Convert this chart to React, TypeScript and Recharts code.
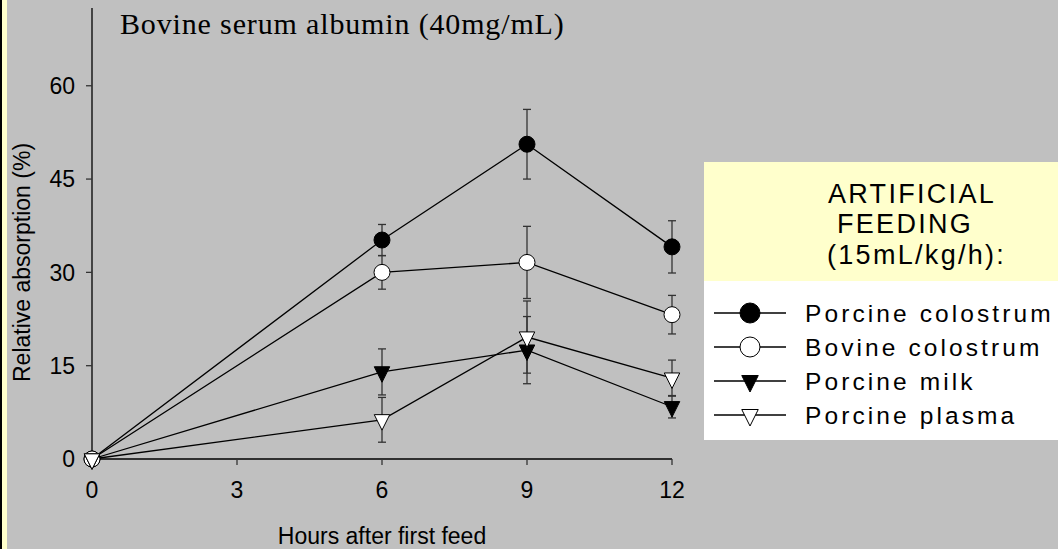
import React from "react";
import {
  ComposedChart,
  Line,
  XAxis,
  YAxis,
  ErrorBar,
  Legend,
  Customized,
} from "recharts";

const hours = [0, 6, 9, 12];
const porcineColostrum = [0, 35.2, 50.6, 34.1];
const porcineColostrumSE = [0, 2.5, 5.6, 4.2];
const bovineColostrum = [0, 30.0, 31.6, 23.2];
const bovineColostrumSE = [0, 2.7, 5.8, 3.1];
const porcineMilk = [0, 14.0, 17.5, 8.4];
const porcineMilkSE = [0, 3.7, 5.4, 1.8];
const porcinePlasma = [0, 6.3, 19.6, 13.0];
const porcinePlasmaSE = [0, 3.6, 5.8, 2.9];

const xTicks = [0, 3, 6, 9, 12];
const yTicks = [0, 15, 30, 45, 60];
const seriesNames = ["Porcine colostrum", "Bovine colostrum", "Porcine milk", "Porcine plasma"];
const legendTitle = ["ARTIFICIAL", "FEEDING", "(15mL/kg/h):"];

const data = hours.map((h, i) => ({
  hour: h,
  pc: porcineColostrum[i],
  pcErr: porcineColostrumSE[i],
  bc: bovineColostrum[i],
  bcErr: bovineColostrumSE[i],
  pm: porcineMilk[i],
  pmErr: porcineMilkSE[i],
  pp: porcinePlasma[i],
  ppErr: porcinePlasmaSE[i],
}));

const SANS = "'Liberation Sans', Arial, sans-serif";
const SERIF = "'Liberation Serif', 'Times New Roman', serif";
const BG = "#C0C0C0";
const YELLOW = "#FFFFCC";

// down-pointing triangle, centred on its centroid
const triPath = (cx: number, cy: number, w: number, h: number) =>
  `M${cx - w / 2},${cy - h / 3} L${cx + w / 2},${cy - h / 3} L${cx},${cy + (2 * h) / 3} Z`;

const makeTriangleDot = (fill: string) => (props: any) => {
  const { cx, cy, index } = props;
  if (cx == null || cy == null) return <g key={`t-${index}`} />;
  return (
    <path
      key={`t-${index}`}
      d={triPath(cx, cy, 15.5, 15.5)}
      fill={fill}
      stroke="#000"
      strokeWidth={1}
    />
  );
};

const markers = [
  { kind: "circle", fill: "#000" },
  { kind: "circle", fill: "#fff" },
  { kind: "tri", fill: "#000" },
  { kind: "tri", fill: "#fff" },
];

const LegendBox = () => (
  <svg width={354} height={278} style={{ display: "block" }}>
    <rect x={0} y={0} width={354} height={119} fill={YELLOW} />
    <rect x={0} y={119} width={354} height={159} fill="#fff" />
    <g fontFamily={SANS} fontSize={27} fill="#000" letterSpacing={2.3}>
      <text x={124} y={41}>{legendTitle[0]}</text>
      <text x={133} y={71}>{legendTitle[1]}</text>
      <text x={123} y={102}>{legendTitle[2]}</text>
    </g>
    {seriesNames.map((name, i) => {
      const cy = 151 + i * 34;
      const m = markers[i];
      return (
        <g key={name}>
          <line x1={10} x2={82} y1={cy} y2={cy} stroke="#000" strokeWidth={1.3} />
          {m.kind === "circle" ? (
            <circle cx={46} cy={cy} r={10} fill={m.fill} stroke="#000" strokeWidth={1} />
          ) : (
            <path d={triPath(46, cy, 16.5, 16.5)} fill={m.fill} stroke="#000" strokeWidth={1} />
          )}
          <text
            x={101}
            y={cy + 9}
            fontFamily={SANS}
            fontSize={24.5}
            letterSpacing={3.1}
            fill="#000"
          >
            {name}
          </text>
        </g>
      );
    })}
  </svg>
);

const ChartTitle = () => (
  <text x={120} y={33.5} fontFamily={SERIF} fontSize={30} letterSpacing={0.85} fill="#000">
    Bovine serum albumin (40mg/mL)
  </text>
);

const YTitle = () => (
  <text
    x={30}
    y={382}
    transform="rotate(-90 30 382)"
    fontFamily={SANS}
    fontSize={23}
    fill="#000"
  >
    Relative absorption (%)
  </text>
);

const tickStyle = { fontSize: 23, fontFamily: SANS, fill: "#000" };

export default function App() {
  return (
    <div style={{ position: "absolute", left: 0, top: 0, width: 1058, height: 549, background: BG }}>
      <ComposedChart
        width={1058}
        height={549}
        data={data}
        margin={{ top: 8, right: 386, bottom: 0, left: 0 }}
      >
        <XAxis
          dataKey="hour"
          type="number"
          domain={[0, 12]}
          ticks={xTicks}
          height={90}
          tick={tickStyle}
          tickSize={6}
          tickMargin={17}
          stroke="#000"
          strokeWidth={1.3}
          tickLine={{ stroke: "#333" }}
          label={{
            value: "Hours after first feed",
            position: "insideBottom",
            offset: 5,
            fontSize: 23,
            fontFamily: SANS,
            fill: "#000",
          }}
        />
        <YAxis
          type="number"
          domain={[0, 72.5]}
          ticks={yTicks}
          width={92}
          tick={tickStyle}
          tickSize={6}
          tickMargin={11}
          stroke="#000"
          strokeWidth={1.3}
          tickLine={{ stroke: "#333" }}
          label={<YTitle />}
        />
        <Customized component={ChartTitle} />
        <Legend
          layout="horizontal"
          verticalAlign="middle"
          align="center"
          wrapperStyle={{ left: 704, top: 162, width: 354, height: 278 }}
          content={() => <LegendBox />}
        />
        <Line
          type="linear"
          dataKey="pc"
          name={seriesNames[0]}
          stroke="#000"
          strokeWidth={1.3}
          dot={{ r: 8, fill: "#000", stroke: "#000", strokeWidth: 1 }}
          activeDot={false}
          isAnimationActive={false}
        >
          <ErrorBar dataKey="pcErr" width={4} stroke="#333" strokeWidth={1.3} direction="y" />
        </Line>
        <Line
          type="linear"
          dataKey="bc"
          name={seriesNames[1]}
          stroke="#000"
          strokeWidth={1.3}
          dot={{ r: 8, fill: "#fff", stroke: "#000", strokeWidth: 1 }}
          activeDot={false}
          isAnimationActive={false}
        >
          <ErrorBar dataKey="bcErr" width={4} stroke="#333" strokeWidth={1.3} direction="y" />
        </Line>
        <Line
          type="linear"
          dataKey="pm"
          name={seriesNames[2]}
          stroke="#000"
          strokeWidth={1.3}
          dot={makeTriangleDot("#000")}
          activeDot={false}
          isAnimationActive={false}
        >
          <ErrorBar dataKey="pmErr" width={4} stroke="#333" strokeWidth={1.3} direction="y" />
        </Line>
        <Line
          type="linear"
          dataKey="pp"
          name={seriesNames[3]}
          stroke="#000"
          strokeWidth={1.3}
          dot={makeTriangleDot("#fff")}
          activeDot={false}
          isAnimationActive={false}
        >
          <ErrorBar dataKey="ppErr" width={4} stroke="#333" strokeWidth={1.3} direction="y" />
        </Line>
      </ComposedChart>
      {/* page edge strip */}
      <div style={{ position: "absolute", left: 0, top: 0, width: 2, height: 549, background: "#000" }} />
      <div style={{ position: "absolute", left: 2, top: 0, width: 5, height: 549, background: YELLOW }} />
    </div>
  );
}
